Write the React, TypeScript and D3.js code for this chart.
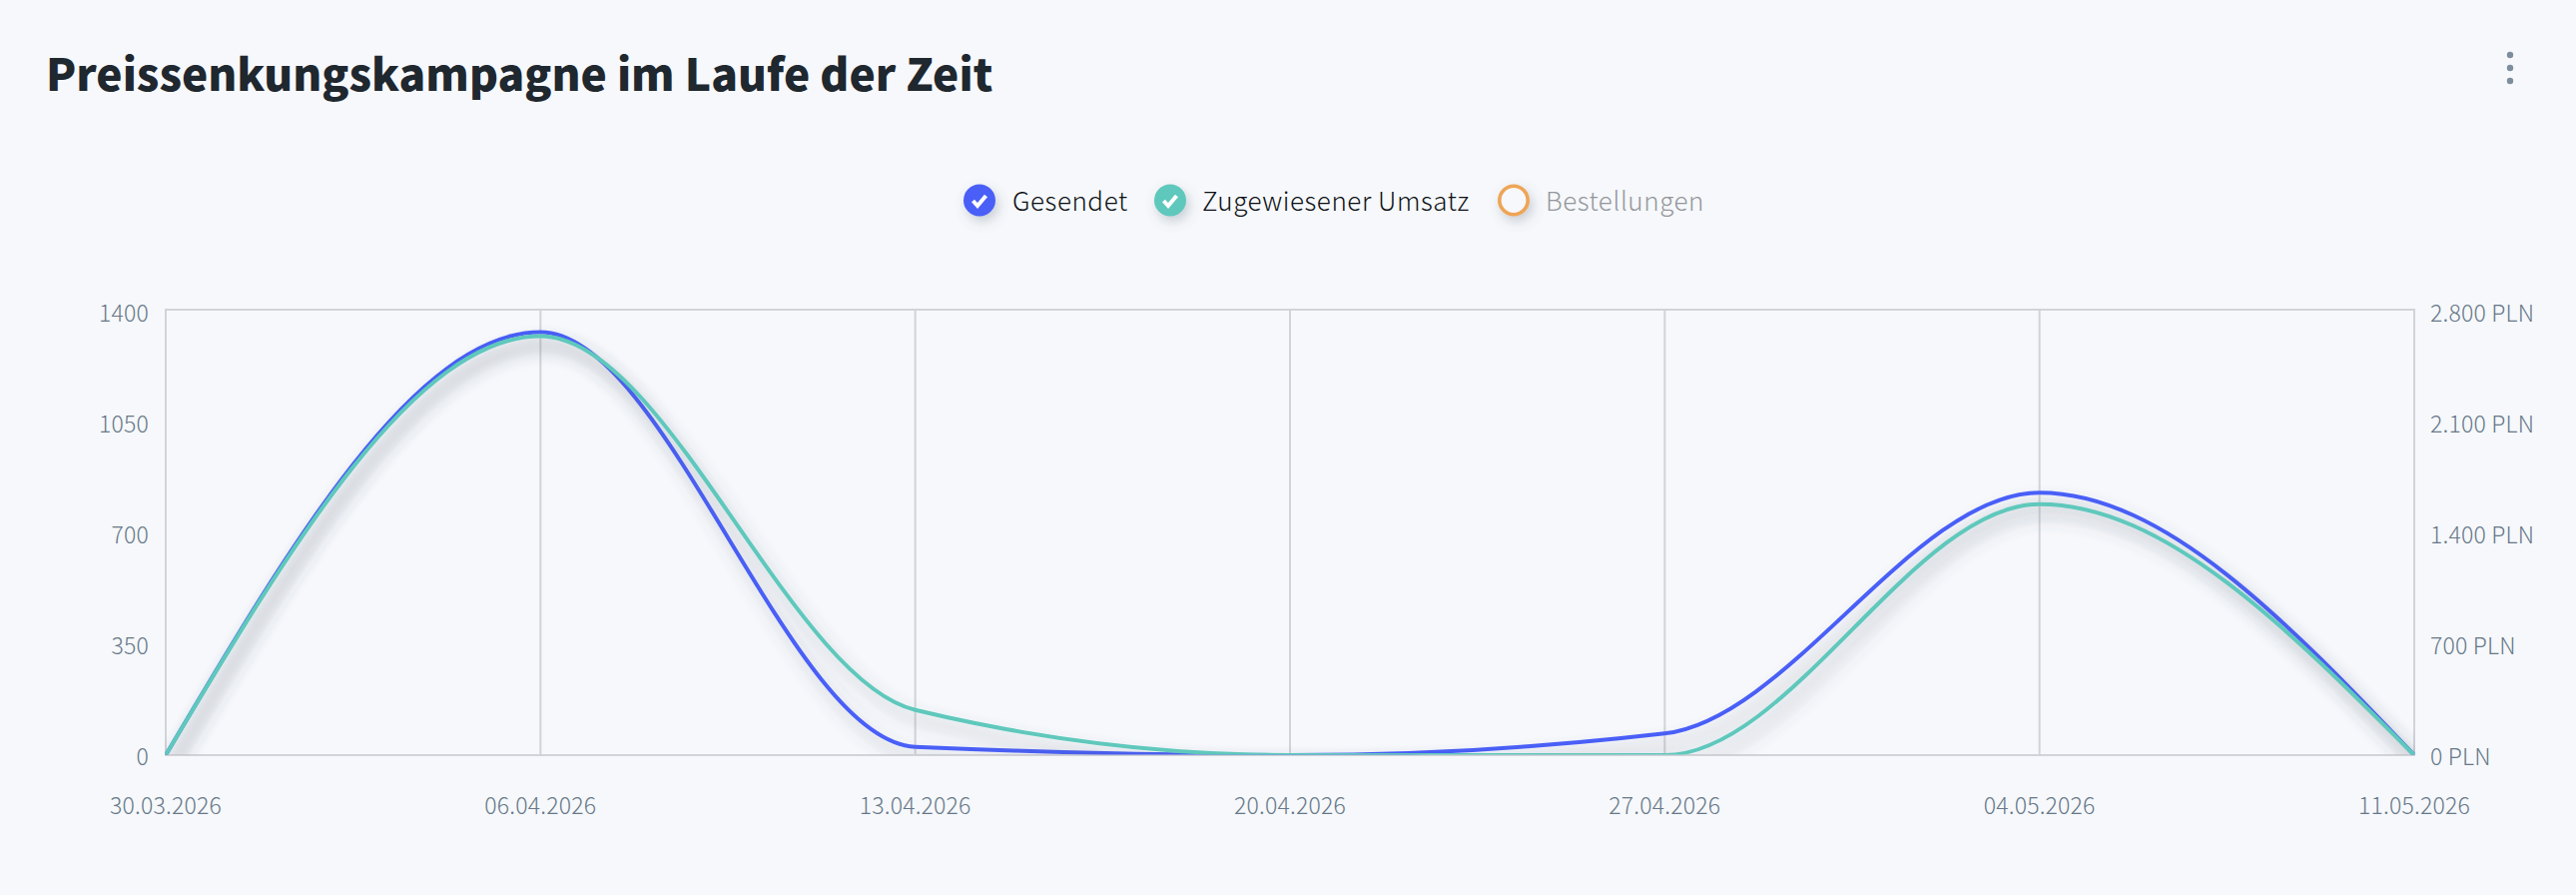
import React from "react";
import * as d3 from "d3";

const dates = ["30.03.2026", "06.04.2026", "13.04.2026", "20.04.2026", "27.04.2026", "04.05.2026", "11.05.2026"];
const sentValues = [0, 1329, 26, 0, 68, 825, 0];
const revenueValues = [0, 2634, 284, 0, 0, 1578, 0];
const leftTicks = [0, 350, 700, 1050, 1400];
const rightTicks = [0, 700, 1400, 2100, 2800];
const titleText = "Preissenkungskampagne im Laufe der Zeit";

const WIDTH = 2580;
const HEIGHT = 896;
const BG = "#f6f8fb";
const BLUE = "#4a5ff7";
const GREEN = "#5ec8bc";
const ORANGE = "#eea557";
const GRID = "#d2d3d8";
const MUTED = "#7d8d9d";
const TICK = "#687889";
const FONT = '"Noto Sans CJK SC", "Noto Sans", sans-serif';

const x = d3.scalePoint<string>().domain(dates).range([166, 2418]);
const yLeft = d3.scaleLinear().domain([0, 1400]).range([756, 310]);
const yRight = d3.scaleLinear().domain([0, 2800]).range([756, 310]);
const labelLeft = d3.scaleLinear().domain([0, 1400]).range([766, 322]);
const labelRight = d3.scaleLinear().domain([0, 2800]).range([766, 322]);

const plnFormat = d3.formatLocale({ decimal: ",", thousands: ".", grouping: [3], currency: ["", " PLN"] }).format(",d");

const lineFor = (scale: d3.ScaleLinear<number, number>) =>
  d3
    .line<number>()
    .x((_, i) => x(dates[i]) as number)
    .y((d) => scale(d))
    .curve(d3.curveMonotoneX);

const legend = [
  { label: "Gesendet", color: BLUE, on: true, cx: 981, tx: 1014 },
  { label: "Zugewiesener Umsatz", color: GREEN, on: true, cx: 1172, tx: 1204 },
  { label: "Bestellungen", color: ORANGE, on: false, cx: 1516, tx: 1548 },
];

export default function App() {
  return (
    <svg
      width={WIDTH}
      height={HEIGHT}
      viewBox={`0 0 ${WIDTH} ${HEIGHT}`}
      style={{ position: "absolute", left: 0, top: 0, display: "block", background: BG, fontFamily: FONT }}
    >
      <defs>
        <filter id="lineShadow" x="-5%" y="-10%" width="110%" height="130%" filterUnits="objectBoundingBox">
          <feDropShadow dx="6" dy="11" stdDeviation="8" floodColor="#50566a" floodOpacity="0.42" />
        </filter>
        <filter id="dotShadow" x="-60%" y="-60%" width="220%" height="220%">
          <feDropShadow dx="3" dy="5" stdDeviation="6" floodColor="#5a6478" floodOpacity="0.3" />
        </filter>
        <clipPath id="plotClip">
          <rect x={165} y={309} width={2254} height={446.5} />
        </clipPath>
      </defs>

      <text x={46} y={91} fontSize={44.2} fontWeight={900} fill="#1f272f">
        {titleText}
      </text>

      {[55, 68, 81].map((cy) => (
        <circle key={cy} cx={2514} cy={cy} r={3.2} fill={MUTED} />
      ))}

      {legend.map((l) => (
        <g key={l.label}>
          {l.on ? (
            <g filter="url(#dotShadow)">
              <circle cx={l.cx} cy={200.5} r={16} fill={l.color} />
              <path d={`M${l.cx - 6.5} ${201} l4.5 5 l8.5 -10`} fill="none" stroke="#fff" strokeWidth={4} />
            </g>
          ) : (
            <circle cx={l.cx} cy={200.5} r={14.2} fill={BG} stroke={l.color} strokeWidth={3.6} filter="url(#dotShadow)" />
          )}
          <text x={l.tx} y={211} fontSize={26} fontWeight={300} letterSpacing={0.55} fill={l.on ? "#0e1216" : "#94979c"}>
            {l.label}
          </text>
        </g>
      ))}

      <rect x={166} y={310} width={2252} height={446} fill="none" stroke={GRID} strokeWidth={2} />
      {dates.slice(1, -1).map((d) => (
        <line key={d} x1={x(d)} x2={x(d)} y1={310} y2={756} stroke={GRID} strokeWidth={2} />
      ))}

      {leftTicks.map((t) => (
        <text key={t} x={149} y={labelLeft(t)} textAnchor="end" fontSize={23} fontWeight={300} letterSpacing={0.2} fill={TICK}>
          {t}
        </text>
      ))}
      {rightTicks.map((t) => (
        <text key={t} x={2434} y={labelRight(t)} fontSize={23} fontWeight={300} letterSpacing={0.2} fill={TICK}>
          {`${plnFormat(t)} PLN`}
        </text>
      ))}
      {dates.map((d) => (
        <text key={d} x={x(d)} y={815} textAnchor="middle" fontSize={23} fontWeight={300} letterSpacing={0.2} fill={TICK}>
          {d}
        </text>
      ))}

      <g clipPath="url(#plotClip)">
        <path d={lineFor(yLeft)(sentValues) ?? ""} fill="none" stroke={BLUE} strokeWidth={4} filter="url(#lineShadow)" />
        <path d={lineFor(yRight)(revenueValues) ?? ""} fill="none" stroke={GREEN} strokeWidth={4} filter="url(#lineShadow)" />
      </g>
    </svg>
  );
}
